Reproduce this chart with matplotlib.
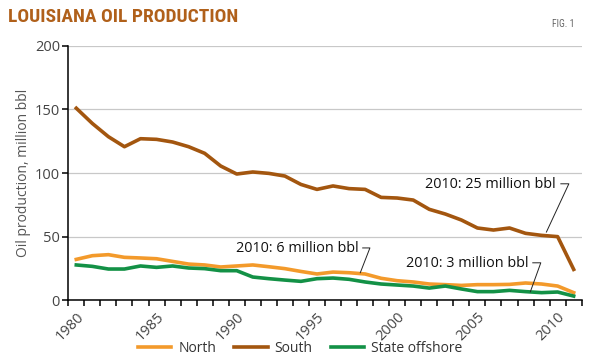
import matplotlib
matplotlib.use("Agg")
import matplotlib.pyplot as plt
from matplotlib import font_manager
import numpy as np

# Louisiana oil production, million bbl
years = list(range(1980, 2012))
north = [32.0, 34.9, 35.7, 33.6, 33.1, 32.5, 30.4, 28.3, 27.6, 26.0,
         26.8, 27.6, 26.2, 24.7, 22.5, 20.5, 22.0, 21.5, 20.5, 17.1,
         15.2, 14.2, 12.6, 12.1, 11.5, 12.1, 12.1, 12.3, 13.4, 12.6,
         11.0, 5.8]
south = [151.0, 139.0, 128.6, 120.7, 127.0, 126.5, 124.4, 120.7, 115.5, 105.5,
         99.2, 100.8, 99.7, 97.6, 91.0, 87.1, 89.8, 87.7, 87.1, 80.8,
         80.3, 78.7, 71.4, 67.7, 63.0, 56.7, 55.1, 56.7, 52.5, 50.9,
         49.9, 24.1]
offshore = [27.6, 26.5, 24.4, 24.4, 26.8, 25.7, 26.8, 25.2, 24.7, 23.1,
            23.1, 18.1, 16.8, 15.7, 14.7, 16.8, 17.3, 16.3, 14.2, 12.6,
            11.8, 11.0, 9.4, 11.0, 8.7, 6.6, 6.6, 7.6, 6.6, 5.8,
            6.3, 3.1]
tick_years = [1980, 1985, 1990, 1995, 2000, 2005, 2010]
y_ticks = [0, 50, 100, 150, 200]

ORANGE = "#F39A2B"
BROWN = "#A3560F"
GREEN = "#139146"
TITLE_COLOR = "#B0601A"


def pick_font(candidates):
    installed = {f.name for f in font_manager.fontManager.ttflist}
    for name in candidates:
        if name in installed:
            return name
    return "DejaVu Sans"


narrow = pick_font(["Liberation Sans Narrow", "DejaVu Sans Condensed", "Roboto Condensed"])
body = pick_font(["Open Sans", "Lato", "DejaVu Sans"])
plt.rcParams["font.family"] = body

fig = plt.figure(figsize=(6.0, 3.59), dpi=100)
ax = fig.add_axes([0.1138, 0.1643, 0.8557, 0.7076])

ax.plot(years, north, color=ORANGE, lw=2.6, solid_joinstyle="round", label="North", zorder=3)
ax.plot(years, south, color=BROWN, lw=2.6, solid_joinstyle="round", label="South", zorder=3)
ax.plot(years, offshore, color=GREEN, lw=2.6, solid_joinstyle="round", label="State offshore", zorder=3)

ax.set_xlim(1979.5, 2011.5)
ax.set_ylim(0, 200)

# tick marks sit between years, labels under the year itself
ax.set_xticks(np.arange(1979.5, 2012, 1.0), minor=True)
ax.set_xticks(tick_years)
ax.set_xticklabels([str(y) for y in tick_years], rotation=45, ha="right",
                   rotation_mode="anchor", fontsize=10.5, color="#444444")
ax.tick_params(axis="x", which="minor", length=4.5, width=1.1, color="black")
ax.tick_params(axis="x", which="major", length=0, pad=6.5)
ax.set_yticks(y_ticks)
ax.set_yticklabels([str(v) for v in y_ticks], fontsize=10.5, color="#444444")
ax.tick_params(axis="y", length=4, width=1.1, color="black", pad=2)

ax.grid(axis="y", color="#c8c8c8", lw=0.9)
ax.set_axisbelow(True)
for side in ["top", "right"]:
    ax.spines[side].set_visible(False)
ax.spines["left"].set_linewidth(1.1)
ax.spines["bottom"].set_linewidth(1.1)

ax.set_ylabel("Oil production, million bbl", fontsize=10, color="#555555", labelpad=3)

# callouts: text end, stub start/end, stub height, leader end point
callouts = [
    ("2010: 25 million bbl", 2009.9, (2010.2, 2010.7), 91.5, (2009.3, 53.5)),
    ("2010: 6 million bbl", 1997.6, (1997.85, 1998.3), 41.0, (1997.7, 21.5)),
    ("2010: 3 million bbl", 2008.2, (2008.45, 2008.95), 29.3, (2008.3, 6.5)),
]
for label, tx, (sx0, sx1), sy, (px, py) in callouts:
    ax.text(tx, sy - 0.8, label, ha="right", va="center", fontsize=10.4,
            fontweight=500, color="#111111", zorder=4)
    ax.plot([sx0, sx1, px], [sy, sy, py], color="#222222", lw=0.7, zorder=4)

fig.text(0.013, 0.952, "LOUISIANA OIL PRODUCTION", fontsize=14, fontweight="bold",
         color=TITLE_COLOR, family=narrow, ha="left", va="center")
fig.text(0.958, 0.933, "FIG. 1", fontsize=7, color="#666666", family=narrow,
         ha="right", va="center")

fig.legend(loc="center", bbox_to_anchor=(0.5, 0.03), ncol=3, frameon=False,
           fontsize=10, handlelength=2.4, columnspacing=1.3, handletextpad=0.5,
           labelcolor="#333333")

fig.savefig("out.png", dpi=100)
